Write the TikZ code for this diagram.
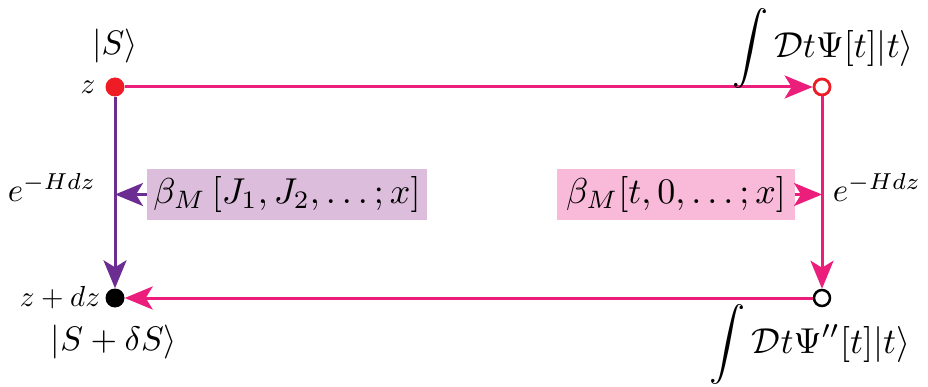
\documentclass[tikz,border=0pt]{standalone}
\usepackage{graphicx}
\usetikzlibrary{arrows.meta}
\definecolor{pinkline}{HTML}{EC1E7C}
\definecolor{purpline}{HTML}{6B2D92}
\definecolor{reddot}{HTML}{EE1C25}
\definecolor{purpbox}{HTML}{DCBEDC}
\definecolor{pinkbox}{HTML}{F8BAD8}
\newcommand{\boxtxt}[1]{\scalebox{3.6}{#1}}
\newcommand{\kettxt}[1]{\scalebox{3.4}{#1}}
\newcommand{\inttxt}[1]{\scalebox{3.6}{#1}}
\newcommand{\smalltxt}[1]{\scalebox{2.9}{#1}}
\newcommand{\midtxt}[1]{\scalebox{3.3}{#1}}
\tikzset{
  conn/.style={line width=3pt,-{Stealth[length=28pt,width=23pt,inset=7pt]}},
  lbl/.style={inner sep=0pt},
  boxlbl/.style={inner sep=0pt,minimum height=51pt},
}
\begin{document}
\begin{tikzpicture}[x=1pt,y=-1pt]
\useasboundingbox (0,0) rectangle (928,387);
\node[circle,fill=reddot,minimum size=19pt,inner sep=0pt] (A) at (115,87) {};
\node[circle,fill=white,draw=reddot,line width=2.8pt,minimum size=16pt,inner sep=0pt] (B) at (822,87) {};
\node[circle,fill=black,minimum size=19pt,inner sep=0pt] (C) at (115,298) {};
\node[circle,fill=white,draw=black,line width=2.5pt,minimum size=16pt,inner sep=0pt] (D) at (822,298) {};
\draw[conn,pinkline] (A) -- (B);
\draw[conn,purpline] (A) -- (C);
\draw[conn,pinkline] (B) -- (D);
\draw[conn,pinkline] (D) -- (C);
\node[boxlbl,fill=purpbox,minimum width=280pt] (pb) at (287,194.5) {\boxtxt{$\beta_M\left[J_1, J_2, \ldots; x\right]$}};
\node[boxlbl,fill=pinkbox,minimum width=238pt] (kb) at (676,194.5) {\boxtxt{$\beta_M[t, 0, \ldots; x]$}};
\draw[conn,purpline] (pb.west) -- (pb.west -| A);
\draw[conn,pinkline] (kb.east) -- (kb.east -| B);
\node[lbl] (s1) at (115,46) {\kettxt{$|S\rangle$}};
\node[lbl] (z1) at (88,87) {\smalltxt{$z$}};
\node[lbl] (e1) at (52,187) {\midtxt{$e^{-Hdz}$}};
\node[lbl] (e2) at (877,187) {\midtxt{$e^{-Hdz}$}};
\node[lbl] (z2) at (60,298) {\smalltxt{$z+dz$}};
\node[lbl] (s2) at (114,342) {\kettxt{$|S+\delta S\rangle$}};
\node[lbl] (i1) at (823,49) {\inttxt{$\displaystyle\int \mathcal{D}t\Psi[t]|t\rangle$}};
\node[lbl] (i2) at (810,344) {\inttxt{$\displaystyle\int \mathcal{D}t\Psi''[t]|t\rangle$}};
\end{tikzpicture}
\end{document}
